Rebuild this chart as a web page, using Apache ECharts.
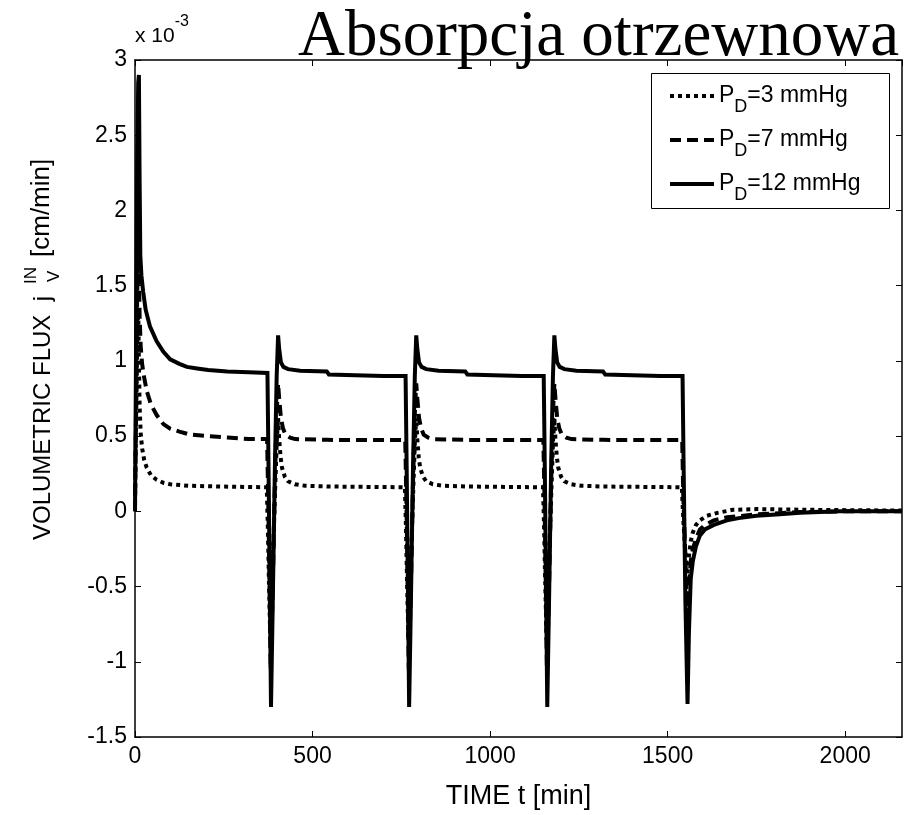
<!DOCTYPE html>
<html>
<head>
<meta charset="utf-8">
<script src="https://cdn.jsdelivr.net/npm/echarts@6/dist/echarts.min.js"></script>
<style>
  html, body { margin: 0; padding: 0; background: #fff; }
  #chart { width: 912px; height: 815px; }
</style>
</head>
<body>
<div id="chart"></div>
<script>
// Volumetric flux (units of 1e-3 cm/min) against time (min), one list per dialysate pressure.
const fluxPD3 = [
  [0,0.05],[3,0.6],[6,1.1],[9,1.35],[11,1.0],[13,0.7],[16,0.52],[20,0.42],[26,0.34],[33,0.29],[45,0.24],[61,0.21],[80,0.19],[99,0.18],[150,0.17],[235,0.165],[371,0.16],
  [374,-0.1],[377,-0.45],[381,-0.85],[387,-0.4],[394,0.1],[399,0.45],[403,0.62],[406,0.48],[410,0.36],[414,0.29],[422,0.23],[431,0.2],[450,0.18],[479,0.17],[540,0.165],[760,0.16],
  [763,-0.1],[766,-0.45],[770,-0.85],[776,-0.4],[783,0.1],[788,0.45],[792,0.62],[795,0.48],[799,0.36],[803,0.29],[811,0.23],[820,0.2],[839,0.18],[868,0.17],[930,0.165],[1149,0.16],
  [1152,-0.1],[1155,-0.45],[1159,-0.85],[1165,-0.4],[1172,0.1],[1177,0.45],[1181,0.62],[1184,0.48],[1188,0.36],[1192,0.29],[1200,0.23],[1209,0.2],[1228,0.18],[1257,0.17],[1318,0.165],[1540,0.16],
  [1544,-0.05],[1549,-0.25],[1555,-0.45],[1560,-0.3],[1565,-0.2],[1571,-0.14],[1580,-0.09],[1591,-0.06],[1610,-0.03],[1640,-0.01],[1684,0.01],[1750,0.015],[1900,0.01],[2160,0.005]
];

const fluxPD7 = [
  [0,0.0],[3,0.7],[6,1.4],[9,1.75],[11,1.6],[13,1.3],[16,1.1],[20,0.98],[25,0.9],[33,0.8],[45,0.71],[61,0.64],[80,0.58],[99,0.55],[125,0.53],[155,0.51],[206,0.5],[260,0.49],[320,0.48],[372,0.48],
  [375,0.1],[379,-0.5],[382,-1.05],[388,-0.5],[394,0.2],[399,0.65],[403,0.85],[406,0.75],[411,0.62],[417,0.55],[424,0.51],[437,0.49],[451,0.48],[540,0.475],[700,0.474],[761,0.474],
  [764,0.1],[768,-0.5],[771,-1.05],[777,-0.5],[783,0.2],[788,0.65],[792,0.85],[795,0.75],[800,0.62],[806,0.55],[813,0.51],[826,0.49],[840,0.48],[930,0.475],[1090,0.474],[1150,0.474],
  [1153,0.1],[1157,-0.5],[1160,-1.05],[1166,-0.5],[1172,0.2],[1177,0.65],[1181,0.85],[1184,0.75],[1189,0.62],[1195,0.55],[1202,0.51],[1215,0.49],[1229,0.48],[1318,0.475],[1480,0.474],[1541,0.474],
  [1544,0.1],[1550,-0.3],[1556,-0.75],[1560,-0.5],[1565,-0.33],[1571,-0.25],[1580,-0.18],[1591,-0.12],[1605,-0.09],[1630,-0.06],[1667,-0.04],[1750,-0.02],[1873,-0.005],[2000,0],[2160,0]
];

const fluxPD12 = [
  [0,0.0],[3,1.1],[6,2.3],[9,2.85],[11,2.9],[13,2.2],[15,1.7],[18,1.57],[23,1.46],[30,1.34],[42,1.23],[61,1.13],[80,1.06],[99,1.01],[125,0.98],[146,0.96],[175,0.95],[206,0.94],[260,0.93],[320,0.925],[373,0.92],
  [376,0.3],[380,-0.6],[383,-1.3],[388,-0.6],[394,0.3],[399,0.9],[403,1.17],[406,1.08],[411,0.99],[418,0.96],[431,0.945],[465,0.935],[540,0.93],[546,0.91],[620,0.905],[700,0.9],[762,0.9],
  [765,0.3],[769,-0.6],[772,-1.3],[777,-0.6],[783,0.3],[788,0.9],[792,1.17],[795,1.08],[800,0.99],[807,0.96],[820,0.945],[855,0.935],[930,0.93],[936,0.91],[1010,0.905],[1090,0.9],[1151,0.9],
  [1154,0.3],[1158,-0.6],[1161,-1.3],[1166,-0.6],[1172,0.3],[1177,0.9],[1181,1.17],[1184,1.08],[1189,0.99],[1196,0.96],[1209,0.945],[1243,0.935],[1318,0.93],[1324,0.91],[1400,0.905],[1480,0.9],[1542,0.9],
  [1545,0.3],[1550,-0.6],[1556,-1.28],[1560,-0.8],[1565,-0.45],[1571,-0.33],[1580,-0.23],[1591,-0.16],[1605,-0.12],[1630,-0.09],[1667,-0.06],[1700,-0.045],[1750,-0.03],[1816,-0.02],[1873,-0.01],[1985,0],[2160,0]
];

const seriesNames = ['PD3', 'PD7', 'PD12'];
const legendValues = ['=3 mmHg', '=7 mmHg', '=12 mmHg'];
const chartTitle = 'Absorpcja otrzewnowa';
const xAxisTitle = 'TIME t [min]';

const AXIS_FONT = 'Liberation Sans, Arial, sans-serif';

const chart = echarts.init(document.getElementById('chart'), null, { renderer: 'canvas' });

const gridBox = { left: 135, top: 60, width: 767, height: 681 };

function lineSeries(name, data, type) {
  return {
    name: name,
    type: 'line',
    data: data,
    symbol: 'none',
    showSymbol: false,
    animation: false,
    lineStyle: { color: '#000', width: 4, type: type, cap: 'butt', join: 'miter' },
    itemStyle: { color: '#000' },
    z: 3
  };
}

const commonTick = { show: true, inside: true, length: 6, lineStyle: { color: '#000', width: 1 } };
const commonLine = { show: true, onZero: false, lineStyle: { color: '#000', width: 1.5 } };

const option = {
  animation: false,
  backgroundColor: '#fff',
  title: {
    text: chartTitle,
    right: 8,
    top: 0,
    textStyle: { fontFamily: 'Liberation Serif, Times New Roman, serif', fontSize: 65, fontWeight: 'normal', color: '#000' },
    z: 10
  },
  grid: gridBox,
  legend: {
    orient: 'vertical',
    left: 663,
    top: 79,
    itemWidth: 44,
    itemHeight: 14,
    itemGap: 12,
    data: seriesNames,
    itemStyle: { color: 'rgba(0,0,0,0)', borderColor: 'rgba(0,0,0,0)', borderWidth: 0 },
    lineStyle: { color: '#000', width: 4 },
    formatter: function (name) {
      const i = seriesNames.indexOf(name);
      return '{p|P}{d|D}{p|' + legendValues[i] + '}';
    },
    textStyle: {
      color: '#000',
      fontFamily: AXIS_FONT,
      rich: {
        p: { fontSize: 23, lineHeight: 24, verticalAlign: 'top', fontFamily: AXIS_FONT, color: '#000' },
        d: { fontSize: 18, lineHeight: 18, padding: [14, 0, 0, 0], verticalAlign: 'top', fontFamily: AXIS_FONT, color: '#000' }
      }
    }
  },
  xAxis: [
    {
      type: 'value', position: 'bottom', min: 0, max: 2160, interval: 500,
      name: xAxisTitle, nameLocation: 'middle', nameGap: 46,
      nameTextStyle: { fontFamily: AXIS_FONT, fontSize: 27, color: '#000' },
      axisLine: commonLine, axisTick: commonTick,
      axisLabel: { color: '#000', fontFamily: AXIS_FONT, fontSize: 23, margin: 8, showMaxLabel: false,
        formatter: function (v) { return String(v); } },
      splitLine: { show: false }
    },
    {
      type: 'value', position: 'top', min: 0, max: 2160, interval: 500,
      axisLine: commonLine, axisTick: commonTick,
      axisLabel: { show: false }, splitLine: { show: false }
    }
  ],
  yAxis: [
    {
      type: 'value', position: 'left', min: -1.5, max: 3, interval: 0.5,
      axisLine: commonLine, axisTick: commonTick,
      axisLabel: { color: '#000', fontFamily: AXIS_FONT, fontSize: 23, margin: 8 },
      splitLine: { show: false }
    },
    {
      type: 'value', position: 'right', min: -1.5, max: 3, interval: 0.5,
      axisLine: commonLine, axisTick: commonTick,
      axisLabel: { show: false }, splitLine: { show: false }
    }
  ],
  graphic: [
    {
      type: 'text', left: 135, top: 14,
      style: {
        text: '{a|x 10}{b|-3}',
        rich: {
          a: { fontFamily: AXIS_FONT, fontSize: 21, lineHeight: 21, padding: [12, 0, 0, 0], verticalAlign: 'top', fill: '#000' },
          b: { fontFamily: AXIS_FONT, fontSize: 16, lineHeight: 16, verticalAlign: 'top', fill: '#000' }
        }
      }
    },
    {
      // legend frame
      type: 'rect', left: 651, top: 73, z: 5,
      shape: { width: 238, height: 135 },
      style: { fill: 'rgba(0,0,0,0)', stroke: '#000', lineWidth: 1 }
    },
    {
      // rotated y-axis title with stacked sub/superscript
      type: 'group', x: 55, y: 540, rotation: Math.PI / 2,
      children: [
        { type: 'text', x: 0, y: 0, style: { text: 'VOLUMETRIC FLUX  j', fontFamily: AXIS_FONT, fontSize: 24, fill: '#000', verticalAlign: 'bottom', align: 'left' } },
        { type: 'text', x: 256, y: -15, style: { text: 'IN', fontFamily: AXIS_FONT, fontSize: 17, fill: '#000', verticalAlign: 'bottom', align: 'left' } },
        { type: 'text', x: 258, y: 8, style: { text: 'V', fontFamily: AXIS_FONT, fontSize: 17, fill: '#000', verticalAlign: 'bottom', align: 'left' } },
        { type: 'text', x: 283, y: 0, style: { text: '[cm/min]', fontFamily: AXIS_FONT, fontSize: 26, fill: '#000', verticalAlign: 'bottom', align: 'left' } }
      ]
    }
  ],
  series: [
    lineSeries('PD3', fluxPD3, [4, 4]),
    lineSeries('PD7', fluxPD7, [11, 6]),
    lineSeries('PD12', fluxPD12, 'solid')
  ]
};

chart.setOption(option);
</script>
</body>
</html>
